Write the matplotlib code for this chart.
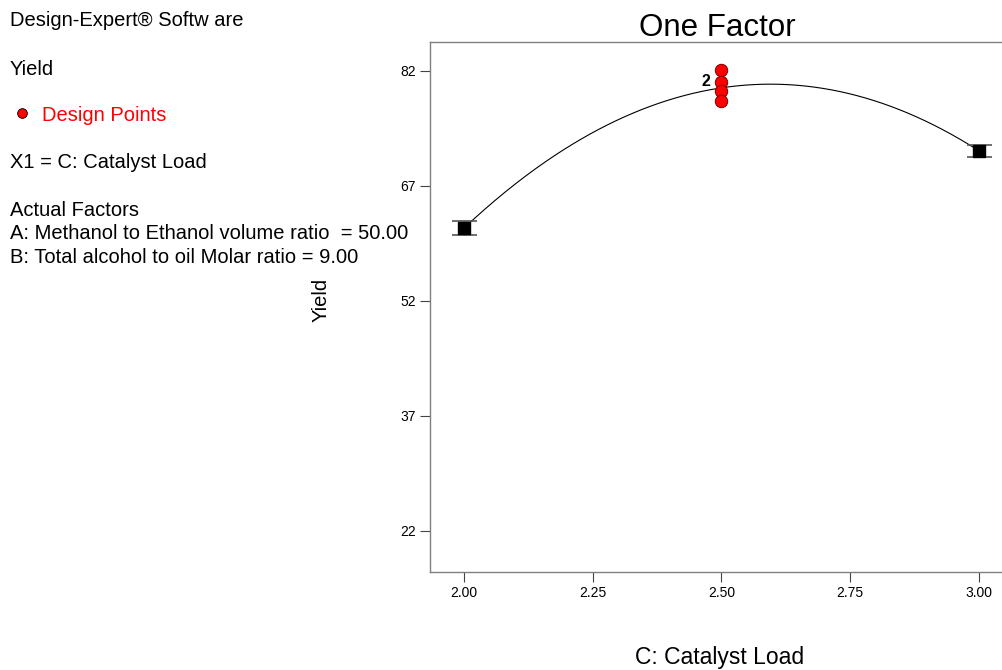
import matplotlib.pyplot as plt
from matplotlib.lines import Line2D
import numpy as np

plt.rcParams['font.family'] = ['Liberation Sans', 'DejaVu Sans']

# Data
levels = [2.00, 2.50, 3.00]
fitted = [61.5, 79.8, 71.6]           # model prediction at each level
err_lo = [0.9, 0.0, 0.8]
err_hi = [0.9, 0.0, 0.8]
design_x = [2.50, 2.50, 2.50, 2.50]
design_y = [82.1, 80.6, 79.4, 78.1]
xticks = [2.00, 2.25, 2.50, 2.75, 3.00]
yticks = [22, 37, 52, 67, 82]

fig = plt.figure(figsize=(10.03, 6.70), dpi=100)
ax = fig.add_axes([0.4287, 0.1463, 0.5713, 0.7910])

# quadratic model curve through the fitted values
coef = np.polyfit(levels, fitted, 2)
xs = np.linspace(2.0, 3.0, 300)
ax.plot(xs, np.polyval(coef, xs), color='black', lw=0.8, zorder=2)

# end points with LSD-style bars
ends = [0, 2]
ax.errorbar([levels[i] for i in ends], [fitted[i] for i in ends],
            yerr=[[err_lo[i] for i in ends], [err_hi[i] for i in ends]],
            fmt='s', color='black', ms=8, ecolor='#555555', elinewidth=1,
            capsize=9, capthick=1.2, zorder=3)

ax.scatter(design_x, design_y, s=80, facecolor='red', edgecolor='#7a0000',
           linewidth=0.7, zorder=4)
ax.text(2.478, design_y[1], '2', ha='right', va='center', fontsize=11.5,
        fontweight='bold')

ax.set_xlim(1.934, 3.047)
ax.set_ylim(16.65, 85.78)
ax.set_xticks(xticks)
ax.set_xticklabels(['%.2f' % v for v in xticks])
ax.set_yticks(yticks)
ax.tick_params(direction='out', length=7, width=0.8, color='#444444',
               labelsize=10, pad=3)
for sp in ax.spines.values():
    sp.set_color('#808080')
    sp.set_linewidth(1.0)

fig.text(0.715, 0.958, 'One Factor', ha='center', va='center', fontsize=22.5)
fig.text(0.320, 0.552, 'Yield', ha='center', va='center', rotation=90,
         fontsize=14.5)
fig.text(0.717, 0.019, 'C: Catalyst Load', ha='center', va='center',
         fontsize=16.5)

# side legend block
fs = 14.5
fig.text(0.010, 0.970, 'Design-Expert® Softw are', fontsize=fs, va='center')
fig.text(0.010, 0.897, 'Yield', fontsize=fs, va='center')
fig.add_artist(Line2D([0.022], [0.832], marker='o', ms=7, mfc='red',
                      mec='black', mew=0.6, transform=fig.transFigure))
fig.text(0.042, 0.827, 'Design Points', fontsize=fs, va='center', color='red')
fig.text(0.010, 0.758, 'X1 = C: Catalyst Load', fontsize=fs, va='center')
fig.text(0.010, 0.686, 'Actual Factors', fontsize=fs, va='center')
fig.text(0.010, 0.651, 'A: Methanol to Ethanol volume ratio  = 50.00',
         fontsize=fs, va='center')
fig.text(0.010, 0.616, 'B: Total alcohol to oil Molar ratio = 9.00',
         fontsize=fs, va='center')

fig.savefig('out.png', dpi=100)
